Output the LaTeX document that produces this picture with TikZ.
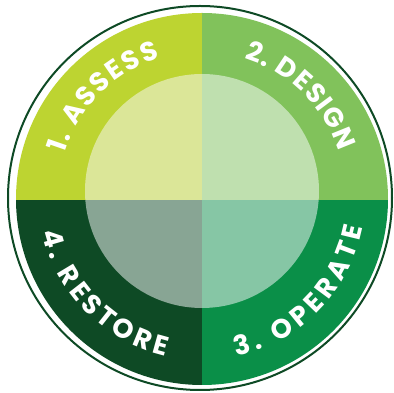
\documentclass[tikz,border=0pt]{standalone}
\usepackage{fontspec}
\newfontfamily\lblfont{Poppins}
\usetikzlibrary{decorations.text,calc}
\definecolor{qone}{HTML}{BDD431}
\definecolor{qonel}{HTML}{DBE698}
\definecolor{qtwo}{HTML}{81C25B}
\definecolor{qtwol}{HTML}{BFE0AF}
\definecolor{qthree}{HTML}{0A8F48}
\definecolor{qthreel}{HTML}{86C6A5}
\definecolor{qfour}{HTML}{0E4A25}
\definecolor{qfourl}{HTML}{88A594}
\newcommand\arcfont{\lblfont\bfseries\fontsize{27}{27}\selectfont}
\tikzset{
  arclabel/.style={decorate, decoration={text along path, text={|\arcfont|#1}, text align=fit to path, text color=white}}
}
\begin{document}
\begin{tikzpicture}[x=1pt,y=1pt]
\useasboundingbox (0,0) rectangle (394,393);
\fill[white] (0,0) rectangle (394,393);
\draw[qfour, line width=2pt] (200,195) circle[radius=192];
\begin{scope}
  \clip (202,194) circle[radius=186];
  \fill[qone] (0,193) rectangle (202,393);
  \fill[qtwo] (202,193) rectangle (394,393);
  \fill[qthree] (202,0) rectangle (394,193);
  \fill[qfour] (0,0) rectangle (202,193);
\end{scope}
\begin{scope}
  \clip (202,202) circle[radius=117];
  \fill[qonel] (0,193) rectangle (202,393);
  \fill[qtwol] (202,193) rectangle (394,393);
  \fill[qthreel] (202,0) rectangle (394,193);
  \fill[qfourl] (0,0) rectangle (202,193);
\end{scope}
\coordinate (tc) at (202,197);
\path[arclabel={1. ASSESS}] ($(tc)+(163:144)$) arc[start angle=163, end angle=107, radius=144];
\path[arclabel={2. DESIGN}] ($(tc)+(73:144)$) arc[start angle=73, end angle=18, radius=144];
\path[arclabel={3. OPERATE}] ($(tc)+(-78:164)$) arc[start angle=-78, end angle=-11, radius=164];
\path[arclabel={4. RESTORE}] ($(tc)+(193:164)$) arc[start angle=193, end angle=257, radius=164];
\end{tikzpicture}
\end{document}
